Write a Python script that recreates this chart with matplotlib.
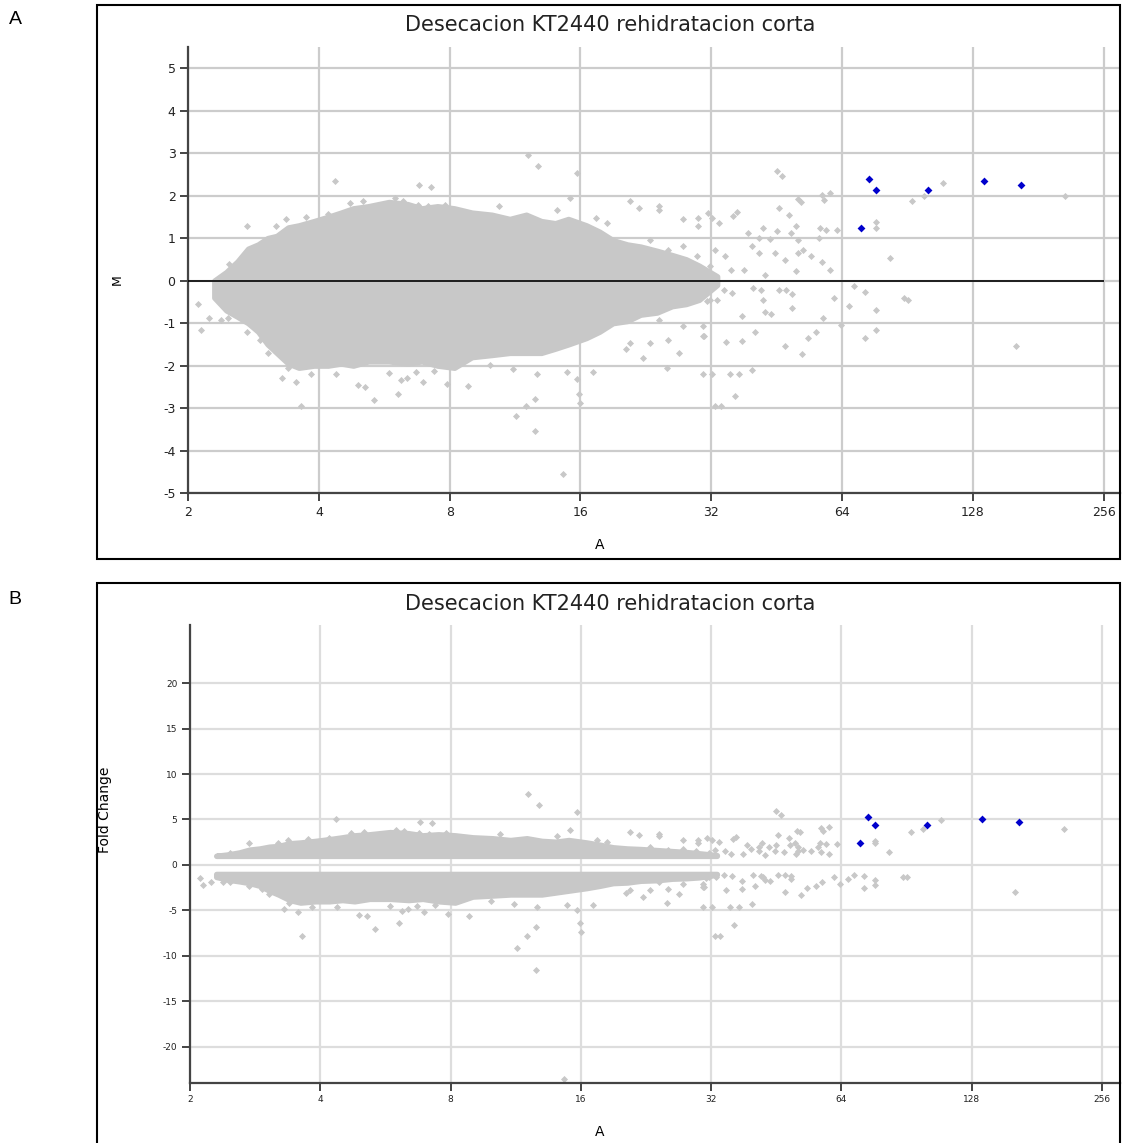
import matplotlib
matplotlib.use("Agg")
import matplotlib.pyplot as plt
import numpy as np
from matplotlib.patches import Rectangle

# --- data (A = mean intensity, M = log2 ratio) ---
title = "Desecacion KT2440 rehidratacion corta"
x_ticks = [2, 4, 8, 16, 32, 64, 128, 256]
m_ticks = [-5, -4, -3, -2, -1, 0, 1, 2, 3, 4, 5]
fc_ticks = [-20, -15, -10, -5, 0, 5, 10, 15, 20]

# outline of the dense grey cloud
cloud_a = [2.3, 2.45, 2.6, 2.75, 2.9, 3.05, 3.2, 3.4, 3.6, 3.9,
           4.2, 4.5, 4.8, 5.2, 5.8, 6.4, 6.9, 7.5, 8.2, 9.0,
           10, 11, 12, 13, 14, 15, 16.5, 17.7, 19, 20.5,
           22, 24, 26, 28, 30, 33]
cloud_top = [0.0, 0.2, 0.45, 0.75, 0.85, 1.0, 1.05, 1.25, 1.3, 1.4,
             1.5, 1.6, 1.7, 1.75, 1.85, 1.8, 1.7, 1.75, 1.7, 1.6,
             1.55, 1.45, 1.55, 1.4, 1.35, 1.45, 1.3, 1.15, 0.95, 0.85,
             0.8, 0.7, 0.6, 0.5, 0.35, 0.1]
cloud_bottom = [-0.4, -0.7, -0.85, -1.0, -1.2, -1.5, -1.7, -1.95, -2.05, -2.0,
                -2.0, -1.95, -2.0, -1.9, -1.9, -1.95, -1.9, -2.0, -2.05, -1.8,
                -1.75, -1.7, -1.7, -1.7, -1.6, -1.5, -1.35, -1.2, -1.0, -0.95,
                -0.8, -0.75, -0.6, -0.55, -0.45, -0.1]

# scattered grey genes outside the dense cloud
sparse_a = [
    45.3, 46.5, 109, 92.9, 98.8, 209, 76.5, 76.5, 82.4, 68.3, 72.3, 61.4, 66.4, 76.5, 88.9, 90.9,
    76.5, 72.3, 63.6, 161, 57.8, 55.8, 53.4, 51.7, 47.4, 39.8, 35.4, 37.1, 32.1, 36.2, 32.6, 33.6,
    40.4, 37.7, 34.6, 30.8, 37.7, 42.6, 43.9, 49.0, 42.1, 39.9, 41.7, 45.7, 47.5, 49.0, 34.3, 35.8,
    31.2, 32.9, 50.6, 51.5, 57.5, 60.1, 58.0, 45.8, 48.4, 36.6, 35.9, 31.4, 32.1, 33.3, 42.0, 50.0,
    57.0, 58.9, 62.4, 38.8, 45.3, 48.7, 43.6, 41.2, 50.7, 56.5, 39.6, 41.2, 44.9, 47.2, 50.7, 52.1,
    54.4, 57.5, 60.1, 50.2, 42.6, 38.0, 35.6, 34.4, 32.6,
    12.1, 12.8, 15.7, 15.1, 20.8, 21.8, 24.2, 24.2, 27.6, 29.9, 29.9, 10.4, 14.1, 17.4, 18.4,
    8.83, 11.2, 12.7, 14.9, 15.7, 17.1, 12.6, 12.0, 15.9, 16.0, 11.4, 12.6, 14.6, 9.9, 25.3, 22.3,
    20.4, 30.6,
    20.8, 23.1, 25.4, 27.6, 29.6, 31.7, 27.6, 24.7, 28.6, 31.7, 21.6, 24.2, 27.6, 30.6, 25.4, 23.1,
    20.8, 27.0, 30.6,
    4.35, 6.8, 7.26, 2.74, 2.48, 2.11, 2.14, 2.24, 2.74, 3.29, 3.55, 3.63, 3.83, 4.37, 4.92, 5.12,
    5.36, 6.09, 6.17, 6.37, 6.95, 7.36, 6.7, 7.9,
    3.19, 3.37, 3.74, 4.2, 4.71, 5.05, 5.18, 5.79, 6.0, 6.25, 6.77, 7.14, 7.8, 3.05, 2.93, 2.38,
    2.47, 3.39, 5.79,
]
sparse_m = [
    2.57, 2.47, 2.30, 1.87, 2.0, 2.0, 1.37, 1.24, 0.53, -0.12, -0.27, -0.41, -0.59, -0.70, -0.41, -0.46,
    -1.17, -1.36, -1.04, -1.55, -0.89, -1.2, -1.36, -1.73, -1.55, -2.11, -2.21, -2.21, -2.21, -2.72, -2.96, -2.96,
    -1.21, -1.43, -1.45, -1.31, -0.84, -0.75, -0.78, -0.64, -0.46, -0.17, -0.23, -0.21, -0.21, -0.31, -0.21, -0.29,
    -0.49, -0.45, 1.92, 1.85, 2.02, 2.06, 1.9, 1.71, 1.54, 1.61, 1.51, 1.59, 1.47, 1.36, 1.24, 1.29,
    1.24, 1.2, 1.18, 1.12, 1.16, 1.12, 0.98, 1.0, 0.96, 1.0, 0.81, 0.65, 0.64, 0.49, 0.65, 0.73,
    0.59, 0.45, 0.26, 0.22, 0.14, 0.26, 0.26, 0.57, 0.73,
    2.96, 2.71, 2.53, 1.95, 1.87, 1.71, 1.75, 1.67, 1.44, 1.48, 1.29, 1.76, 1.67, 1.48, 1.36,
    -2.49, -2.09, -2.21, -2.15, -2.31, -2.15, -2.78, -2.96, -2.68, -2.88, -3.19, -3.53, -4.56, -1.98, -2.05, -1.82,
    -1.62, -2.21,
    0.73, 0.96, 0.73, 0.81, 0.57, 0.34, 0.18, -0.13, -0.37, -0.45, -0.6, -0.92, -1.07, -1.31, -1.39, -1.47,
    -1.47, -1.7, -1.07,
    2.34, 2.24, 2.2, 1.29, 0.39, -0.55, -1.17, -0.88, -1.22, -2.29, -2.38, -2.96, -2.21, -2.21, -2.45, -2.5,
    -2.82, -2.68, -2.33, -2.29, -2.38, -2.13, -2.16, -2.43,
    1.29, 1.44, 1.49, 1.58, 1.83, 1.87, 1.69, 1.67, 1.95, 1.88, 1.79, 1.75, 1.79, -1.7, -1.39, -0.92,
    -0.89, -2.05, -2.17,
]

# highlighted (blue) genes
hl_a = [73.8, 76.5, 101, 135.6, 165, 70.8]
hl_m = [2.39, 2.14, 2.14, 2.34, 2.24, 1.25]

GREY = "#c8c8c8"
BLUE = "#0000cc"
W, H = 1122, 1143


def box(l, t, r, b):
    return [l / W, 1 - b / H, (r - l) / W, (b - t) / H]


def fold_change(m):
    m = np.asarray(m, dtype=float)
    return np.where(m >= 0, 2.0 ** m, -(2.0 ** (-m)))


def setup(ax, xlim, ylim, yticks, fs, grid_color):
    ax.set_xscale("log", base=2)
    ax.set_xlim(xlim)
    ax.set_ylim(ylim)
    ax.set_xticks(x_ticks)
    ax.set_xticklabels([str(t) for t in x_ticks])
    ax.xaxis.set_minor_locator(matplotlib.ticker.NullLocator())
    ax.set_yticks(yticks)
    ax.set_yticklabels([str(t) for t in yticks])
    for s in ("top", "right"):
        ax.spines[s].set_visible(False)
    for s in ("left", "bottom"):
        ax.spines[s].set_color("#444444")
        ax.spines[s].set_linewidth(1.6)
    ax.tick_params(direction="out", length=6, width=1.4, color="#444444",
                   labelsize=fs, labelcolor="#222222", pad=3)
    ax.grid(True, color=grid_color, lw=1.6)
    ax.set_axisbelow(True)


fig = plt.figure(figsize=(W / 100, H / 100), dpi=100)

# frames and panel letters
for top, bot in ((5, 559), (583, 1146)):
    fig.add_artist(Rectangle((97 / W, 1 - bot / H), (1120 - 97) / W, (bot - top) / H,
                             transform=fig.transFigure, fill=False, ec="black", lw=1.5))
fig.text(15 / W, 1 - 20 / H, "A", fontsize=14, family="Liberation Sans", va="center", ha="center")
fig.text(15 / W, 1 - 600 / H, "B", fontsize=14, family="Liberation Sans", va="center", ha="center")

# ---- panel A: MA plot ----
axA = fig.add_axes(box(188, 47, 1120, 493))
setup(axA, (2, 279), (-5, 5.5), m_ticks, 9, "#cccccc")
axA.fill_between(cloud_a, cloud_bottom, cloud_top, color=GREY, ec=GREY, lw=4, zorder=2)
axA.scatter(sparse_a, sparse_m, marker="D", s=13, c=GREY, linewidths=0, zorder=2)
axA.scatter(hl_a, hl_m, marker="D", s=16, c=BLUE, linewidths=0, zorder=3)
axA.hlines(0, x_ticks[0], x_ticks[-1], color="black", lw=1.2, zorder=4)
fig.text(610 / W, 1 - 25 / H, title, fontsize=15, color="#222222", ha="center", va="center")
fig.text(117 / W, 1 - 280 / H, "M", fontsize=9, rotation=90, ha="center", va="center")
fig.text(600 / W, 1 - 545 / H, "A", fontsize=10, ha="center", va="center")

# ---- panel B: fold change ----
axB = fig.add_axes(box(190, 625, 1120, 1083))
setup(axB, (2, 282), (-24, 26.4), fc_ticks, 6.5, "#dddddd")
axB.fill_between(cloud_a, 1, fold_change(cloud_top), color=GREY, ec=GREY, lw=4, zorder=2)
axB.fill_between(cloud_a, -1, fold_change(cloud_bottom), color=GREY, ec=GREY, lw=4, zorder=2)
axB.scatter(sparse_a, fold_change(sparse_m), marker="D", s=13, c=GREY, linewidths=0, zorder=2)
axB.scatter(hl_a, fold_change(hl_m), marker="D", s=16, c=BLUE, linewidths=0, zorder=3)
fig.text(610 / W, 1 - 604 / H, title, fontsize=15, color="#222222", ha="center", va="center")
fig.text(105 / W, 1 - 810 / H, "Fold Change", fontsize=10, rotation=90, ha="center", va="center")
fig.text(600 / W, 1 - 1132 / H, "A", fontsize=10, ha="center", va="center")

fig.savefig("out.png", dpi=100)
